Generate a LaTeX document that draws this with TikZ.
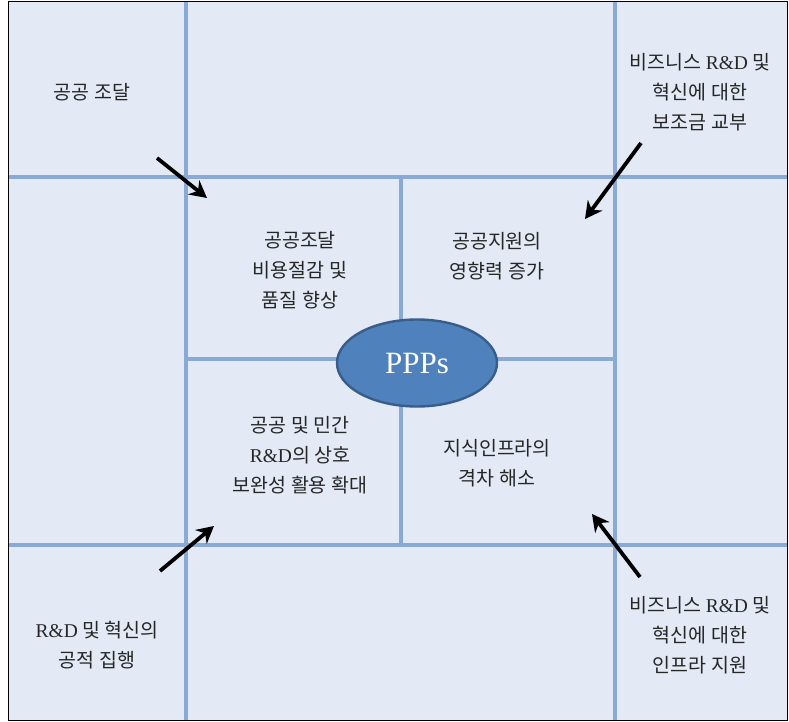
\documentclass[tikz,border=0pt]{standalone}
\usepackage{fontspec}
\setmainfont{Liberation Serif}
\newfontfamily\kr{Noto Sans CJK KR}
\usetikzlibrary{arrows.meta,shapes.geometric}
\definecolor{cellbg}{HTML}{E3EAF6}
\definecolor{gridln}{HTML}{8AAAD6}
\definecolor{ellfill}{HTML}{4F81BD}
\definecolor{elldraw}{HTML}{385D8A}
\newcommand{\rdx}{{\rmfamily R\&D}}
\begin{document}
\begin{tikzpicture}[x=1pt,y=-1pt,
  gridline/.style={draw=gridln,line width=3.4pt},
  lbl/.style={font=\kr\fontsize{19.5}{30}\selectfont,align=center,text=black!85,inner sep=0pt},
  arr/.style={draw=black,line width=3.8pt,-{Stealth[length=17pt,width=18pt]}}]
\useasboundingbox (0,0) rectangle (789,722);
\fill[white] (0,0) rectangle (789,722);
\draw[fill=cellbg,draw=black,line width=1pt] (8,2) rectangle (787,720);
% grid lines
\draw[gridline] (186,2) -- (186,720);
\draw[gridline] (615,2) -- (615,720);
\draw[gridline] (8,177) -- (787,177);
\draw[gridline] (8,545) -- (787,545);
\draw[gridline] (401,177) -- (401,545);
\draw[gridline] (186,359) -- (615,359);
\draw[draw=black,line width=1pt] (8,2) rectangle (787,720);
% ellipse
\node[ellipse,fill=ellfill,draw=elldraw,line width=2.4pt,minimum width=160pt,minimum height=87pt,inner sep=0pt,
  text=white,font=\fontsize{31}{33}\selectfont] (ppp) at (417,363) {PPPs};
% labels
\node[lbl] (tl) at (92,92) {공공 조달};
\node[lbl] (tr) at (700,92) {비즈니스 \rdx{} 및\\혁신에 대한\\보조금 교부};
\node[lbl] (c1) at (300,270) {공공조달\\비용절감 및\\품질 향상};
\node[lbl] (c2) at (497,256) {공공지원의\\영향력 증가};
\node[lbl] (c3) at (300,455) {공공 및 민간\\\rdx 의 상호\\보완성 활용 확대};
\node[lbl] (c4) at (497,463) {지식인프라의\\격차 해소};
\node[lbl] (bl) at (97,645) {\rdx{} 및 혁신의\\공적 집행};
\node[lbl] (br) at (700,635) {비즈니스 \rdx{} 및\\혁신에 대한\\인프라 지원};
% arrows
\coordinate (a1s) at (157,158); \coordinate (a1e) at (207,198);
\coordinate (a2s) at (641,143); \coordinate (a2e) at (585,219);
\coordinate (a3s) at (160,571); \coordinate (a3e) at (214,526);
\coordinate (a4s) at (640,577); \coordinate (a4e) at (592,514);
\draw[arr] (a1s) -- (a1e);
\draw[arr] (a2s) -- (a2e);
\draw[arr] (a3s) -- (a3e);
\draw[arr] (a4s) -- (a4e);
\end{tikzpicture}
\end{document}
